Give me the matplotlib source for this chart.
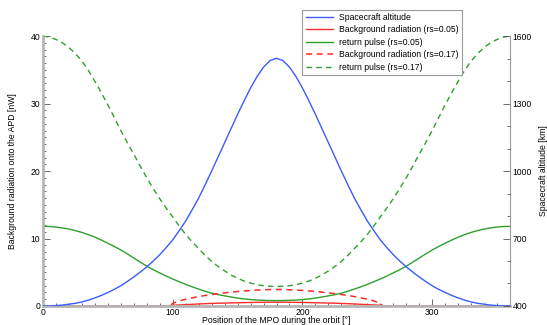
import numpy as np
import matplotlib
matplotlib.use('Agg')
import matplotlib.pyplot as plt
from matplotlib.ticker import MultipleLocator, FixedLocator

plt.rcParams['font.family'] = ['Liberation Sans', 'DejaVu Sans']
plt.rcParams['font.size'] = 6.2

# orbit position [deg], every 5 deg
pos = list(range(0, 361, 5))

# spacecraft altitude [km]
altitude = [400, 400, 402, 404, 408, 412, 418, 426, 436, 447, 460, 474, 490, 509, 529, 551, 574, 600, 628,
            660, 694, 735, 778, 828, 880, 939, 1000, 1063, 1126, 1189, 1252, 1312, 1369, 1420, 1462, 1491, 1501,
            1491, 1462, 1420, 1369, 1312, 1252, 1189, 1126, 1063, 1000, 939, 880, 828, 778, 735, 694, 660,
            628, 600, 574, 551, 529, 509, 490, 474, 460, 447, 436, 426, 418, 412, 408, 404, 402, 400, 400]

# return pulse [nW]
rp_005 = [11.8, 11.78, 11.7, 11.57, 11.4, 11.17, 10.9, 10.57, 10.2, 9.77, 9.3, 8.82, 8.3, 7.72, 7.1, 6.5, 5.9,
          5.38, 4.9, 4.43, 4.0, 3.6, 3.2, 2.84, 2.5, 2.18, 1.9, 1.68, 1.5, 1.33, 1.18, 1.05, 0.95, 0.88, 0.84,
          0.81, 0.8, 0.81, 0.84, 0.88, 0.95, 1.05, 1.18, 1.33, 1.5, 1.68, 1.9, 2.18, 2.5, 2.84, 3.2, 3.6, 4.0,
          4.43, 4.9, 5.38, 5.9, 6.5, 7.1, 7.72, 8.3, 8.82, 9.3, 9.77, 10.2, 10.57, 10.9, 11.17, 11.4, 11.57,
          11.7, 11.78, 11.8]
rp_017 = [40, 39.85, 39.5, 39.0, 38.3, 37.4, 36.3, 34.9, 33.3, 31.6, 29.8, 27.9, 26.0, 24.2, 22.5, 20.7, 19.0,
          17.4, 15.9, 14.5, 13.2, 11.85, 10.6, 9.5, 8.5, 7.5, 6.6, 5.85, 5.2, 4.6, 4.1, 3.7, 3.4, 3.15, 3.0,
          2.92, 2.9, 2.92, 3.0, 3.15, 3.4, 3.7, 4.1, 4.6, 5.2, 5.85, 6.6, 7.5, 8.5, 9.5, 10.6, 11.85, 13.2,
          14.5, 15.9, 17.4, 19.0, 20.7, 22.5, 24.2, 26.0, 27.9, 29.8, 31.6, 33.3, 34.9, 36.3, 37.4, 38.3, 39.0,
          39.5, 39.85, 40]

# background radiation [nW], zero outside 98..262 deg
bg_pos = [0, 98, 100, 105, 110, 115, 120, 125, 130, 135, 140, 145, 150, 155, 160, 165, 170, 175, 180,
          185, 190, 195, 200, 205, 210, 215, 220, 225, 230, 235, 240, 245, 250, 255, 260, 262, 360]
bg_005 = [0, 0, 0.1, 0.15, 0.2, 0.25, 0.3, 0.34, 0.38, 0.41, 0.43, 0.46, 0.48, 0.5, 0.52, 0.54, 0.55, 0.56, 0.56,
          0.56, 0.55, 0.54, 0.52, 0.5, 0.48, 0.46, 0.43, 0.41, 0.38, 0.34, 0.3, 0.25, 0.2, 0.15, 0.1, 0, 0]
bg_017 = [0, 0, 0.4, 0.75, 1.0, 1.2, 1.4, 1.55, 1.7, 1.83, 1.95, 2.05, 2.15, 2.23, 2.3, 2.36, 2.4, 2.44, 2.45,
          2.44, 2.4, 2.36, 2.3, 2.23, 2.15, 2.05, 1.95, 1.83, 1.7, 1.55, 1.4, 1.2, 1.0, 0.75, 0.4, 0, 0]

blue = '#3a5cff'
red = '#ff2a2a'
green = '#2fa02f'
grey = '#9a9a9a'

fig = plt.figure(figsize=(5.47, 3.25), dpi=100)
ax = fig.add_axes([0.0786, 0.0585, 0.8538, 0.8305])
ax2 = ax.twinx()

l1, = ax2.plot(pos, altitude, color=blue, lw=1.0, label='Spacecraft altitude')
l2, = ax.plot(bg_pos, bg_005, color=red, lw=1.0, label='Background radiation (rs=0.05)')
l3, = ax.plot(pos, rp_005, color=green, lw=1.0, label='return pulse (rs=0.05)')
l4, = ax.plot(bg_pos, bg_017, color=red, lw=1.1, ls=(0, (4, 3)), label='Background radiation (rs=0.17)')
l5, = ax.plot(pos, rp_017, color=green, lw=1.0, ls=(0, (4, 3)), label='return pulse (rs=0.17)')

ax.set_xlim(0, 360)
ax.set_ylim(0, 40)
ax2.set_ylim(400, 1600)

ax.xaxis.set_major_locator(MultipleLocator(100))
ax.xaxis.set_minor_locator(MultipleLocator(10))
ax.yaxis.set_major_locator(MultipleLocator(10))
ax.yaxis.set_minor_locator(MultipleLocator(1))
ax2.yaxis.set_major_locator(FixedLocator([400, 700, 1000, 1300, 1600]))
ax2.yaxis.set_minor_locator(MultipleLocator(100))

for a in (ax, ax2):
    a.spines['top'].set_visible(False)
    a.tick_params(which='both', direction='in', color='#555555', width=0.6, pad=2)
    a.tick_params(which='major', length=5)
    a.tick_params(which='minor', length=2.5)
ax.tick_params(axis='x', which='both', pad=1.5)
ax.spines['left'].set_color('#b5b5b5')
ax.spines['left'].set_linewidth(2.0)
ax.spines['bottom'].set_color('#b5b5b5')
ax.spines['bottom'].set_linewidth(2.0)
ax.spines['right'].set_visible(False)
ax2.spines['left'].set_visible(False)
ax2.spines['bottom'].set_visible(False)
ax2.spines['right'].set_color(grey)
ax2.spines['right'].set_linewidth(0.8)

ax.set_xlabel('Position of the MPO during the orbit [°]', labelpad=-0.5)
ax.set_ylabel('Background radiation onto the APD [nW]', labelpad=10)
ax2.set_ylabel('Spacecraft altitude [km]', labelpad=5)

leg = fig.legend(handles=[l1, l2, l3, l4, l5], loc='upper left',
                 bbox_to_anchor=(0.545, 0.984), fancybox=False, edgecolor=grey,
                 handlelength=3.2, labelspacing=0.4, borderpad=0.4, handletextpad=0.6,
                 framealpha=1)
leg.get_frame().set_linewidth(0.8)

fig.savefig('out.png', dpi=100)
